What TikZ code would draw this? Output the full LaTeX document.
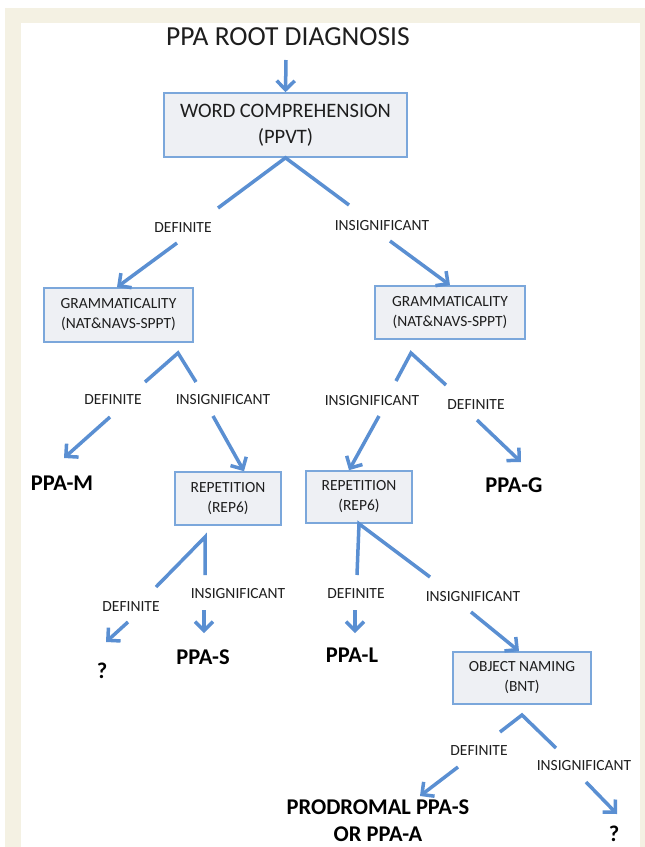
\documentclass[tikz,border=0pt]{standalone}
\usepackage{fontspec}
\setmainfont{Carlito}
\usetikzlibrary{arrows.meta}
\definecolor{cream}{HTML}{F4F1E3}
\definecolor{linkblue}{HTML}{5A8FD2}
\definecolor{boxblue}{HTML}{7BA7DB}
\definecolor{boxfill}{HTML}{EEF0F4}
\definecolor{ink}{HTML}{1E1E1E}
\begin{document}
\begin{tikzpicture}[x=1pt,y=-1pt,
        box/.style={draw=boxblue,fill=boxfill,line width=1.6pt,align=center,text=ink,
            inner sep=0pt,font=\fontsize{15.5}{20}\selectfont},
        lbl/.style={text=ink,inner sep=0pt,font=\fontsize{15.5}{18}\selectfont},
        res/.style={text=black,align=center,inner sep=0pt,font=\bfseries\fontsize{22.5}{27}\selectfont},
        link/.style={draw=linkblue,line width=3.5pt},
        arr/.style={link,-{Straight Barb[length=9pt,width=18pt]}}]
    % frame
    \useasboundingbox (0,0) rectangle (645,847);
    \fill[white] (0,0) rectangle (645,847);
    \fill[cream] (5,8) rectangle (645,847);
    \fill[white] (21,23) rectangle (640,847);

    % title and first test
    \node[text=ink,inner sep=0pt,font=\fontsize{27.5}{30}\selectfont] (root) at (288,37) {PPA ROOT DIAGNOSIS};
    \node[box,minimum width=243pt,minimum height=64pt,font=\fontsize{20.5}{26}\selectfont] (wc) at (285.5,125) {WORD COMPREHENSION\\(PPVT)};
    \coordinate (r0) at (286,60);
    \draw[arr] (r0) -- (wc.north);

    % second level
    \node[box,minimum width=149pt,minimum height=54pt] (gl) at (118.5,315) {GRAMMATICALITY\\(NAT\&NAVS-SPPT)};
    \node[box,minimum width=150pt,minimum height=53pt] (gr) at (450,312.5) {GRAMMATICALITY\\(NAT\&NAVS-SPPT)};
    \node[lbl] (d1) at (183,228) {DEFINITE};
    \node[lbl] (i1) at (382,226) {INSIGNIFICANT};
    \coordinate (w1) at (218,208);
    \coordinate (w2) at (349,205);
    \draw[link] (w1) -- (wc.south) -- (w2);
    \coordinate (s1) at (177,243);
    \coordinate (s2) at (390,241);
    \draw[arr] (s1) -- ([xshift=-1.5pt]gl.north);
    \draw[arr] (s2) -- (gr.north);

    % left grammaticality
    \node[lbl] (d2) at (113,400) {DEFINITE};
    \node[lbl] (i2) at (223,400) {INSIGNIFICANT};
    \coordinate (gla) at (178,353);
    \coordinate (gl1) at (145,382);
    \coordinate (gl2) at (196,382);
    \draw[link] (gl1) -- (gla) -- (gl2);
    \node[res] (pm) at (62,483) {PPA-M};
    \node[box,minimum width=106pt,minimum height=53pt] (rl) at (228,498.5) {REPETITION\\(REP6)};
    \coordinate (s3) at (110,417);
    \coordinate (t3) at (64,458);
    \coordinate (s4) at (213,416);
    \draw[arr] (s3) -- (t3);
    \draw[arr] (s4) -- ([xshift=16pt]rl.north);

    % right grammaticality
    \node[lbl] (i3) at (372,401) {INSIGNIFICANT};
    \node[lbl] (d3) at (476,405) {DEFINITE};
    \coordinate (gra) at (411,353);
    \coordinate (gr1) at (396,381);
    \coordinate (gr2) at (446,385);
    \draw[link] (gr1) -- (gra) -- (gr2);
    \node[box,minimum width=106pt,minimum height=52pt] (rr) at (359,497) {REPETITION\\(REP6)};
    \node[res] (pg) at (514,485) {PPA-G};
    \coordinate (s5) at (379,416);
    \coordinate (s6) at (477,420);
    \coordinate (t6) at (521,462);
    \draw[arr] (s5) -- ([xshift=-10pt]rr.north);
    \draw[arr] (s6) -- (t6);

    % left repetition
    \node[lbl] (d4) at (131,607) {DEFINITE};
    \node[lbl] (i4) at (238,594) {INSIGNIFICANT};
    \coordinate (rla) at (205,537);
    \coordinate (rl1) at (156,587);
    \coordinate (rl2) at (205,575);
    \draw[link] (rl1) -- (rla) -- (rl2);
    \node[res] (q1) at (102,671) {?};
    \node[res] (ps) at (203,657) {PPA-S};
    \coordinate (s7) at (128,622);
    \coordinate (t7) at (106,642);
    \coordinate (s8) at (204,610);
    \coordinate (t8) at (204,633);
    \draw[arr] (s7) -- (t7);
    \draw[arr] (s8) -- (t8);

    % right repetition
    \node[lbl] (d5) at (356,594) {DEFINITE};
    \node[lbl] (i5) at (473,597) {INSIGNIFICANT};
    \coordinate (rr1) at (357,575);
    \coordinate (rr2) at (430,577);
    \draw[link] (rr1) -- (rr.south) -- (rr2);
    \node[res] (pl) at (352,655) {PPA-L};
    \node[box,minimum width=138pt,minimum height=52pt] (on) at (522,678) {OBJECT NAMING\\(BNT)};
    \coordinate (s9) at (355,610);
    \coordinate (t9) at (355,633);
    \coordinate (s10) at (471,612);
    \draw[arr] (s9) -- (t9);
    \draw[arr] (s10) -- ([xshift=-3pt]on.north);

    % object naming
    \node[lbl] (d6) at (479,751) {DEFINITE};
    \node[lbl] (i6) at (584,766) {INSIGNIFICANT};
    \coordinate (ona) at (522,715);
    \coordinate (on1) at (500,732);
    \coordinate (on2) at (556,748);
    \draw[link] (on1) -- (ona) -- (on2);
    \node[res] (pp) at (378,821) {PRODROMAL PPA-S\\OR PPA-A};
    \node[res] (q2) at (614,834) {?};
    \coordinate (s11) at (458,767);
    \coordinate (t11) at (420,796);
    \coordinate (s12) at (586,782);
    \coordinate (t12) at (617,814);
    \draw[arr] (s11) -- (t11);
    \draw[arr] (s12) -- (t12);
\end{tikzpicture}
\end{document}
